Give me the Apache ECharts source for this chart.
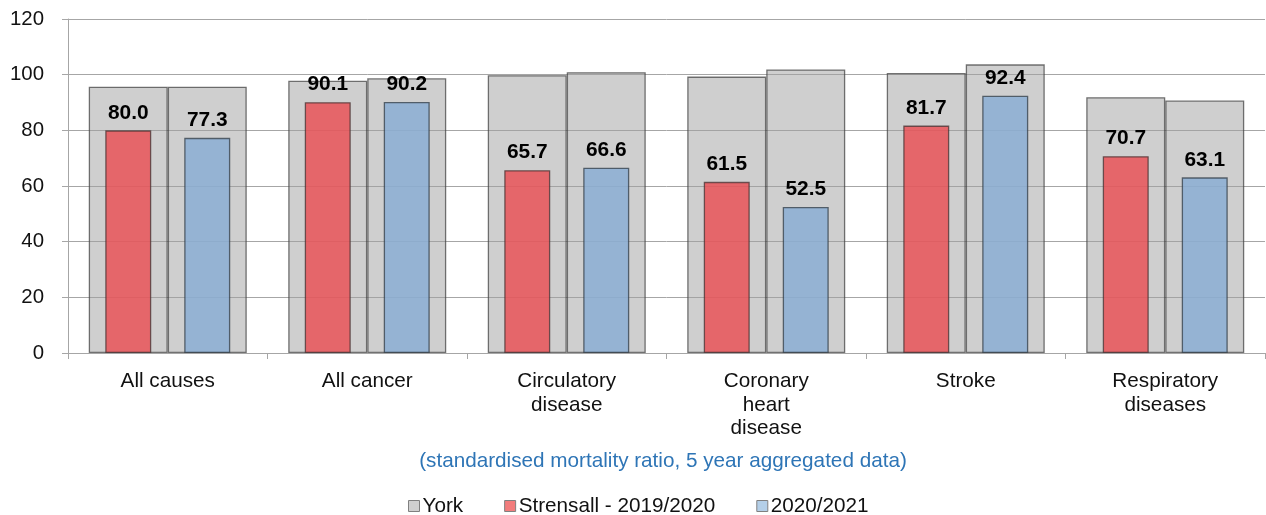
<!DOCTYPE html>
<html>
<head>
<meta charset="utf-8">
<script src="https://cdn.jsdelivr.net/npm/echarts@6/dist/echarts.min.js"></script>
<style>
  html, body { margin: 0; padding: 0; background: #fff; }
  #chart { width: 1266px; height: 515px; }
</style>
</head>
<body>
<div id="chart"></div>
<script>
// Causes of death (category labels, wrapped as drawn under the axis)
const categories = ['All causes', 'All cancer', 'Circulatory\ndisease', 'Coronary\nheart\ndisease', 'Stroke', 'Respiratory\ndiseases'];
// York comparator values for each period
const york2019 = [95.7, 97.8, 99.8, 99.3, 100.6, 91.9];
const york2020 = [95.7, 98.7, 100.9, 101.9, 103.7, 90.7];
// Strensall values
const strensall2019 = [80.0, 90.1, 65.7, 61.5, 81.7, 70.7];
const strensall2020 = [77.3, 90.2, 66.6, 52.5, 92.4, 63.1];
// Y axis ticks
const yTicks = [0, 20, 40, 60, 80, 100, 120];
const subtitle = '(standardised mortality ratio, 5 year aggregated data)';
const legendNames = ['York', 'Strensall - 2019/2020', '2020/2021'];

const FONT = '"Liberation Sans", Arial, sans-serif';
const TEXT_SIZE = 20.7;
const greyFill = 'rgba(160,160,160,0.5)';
const greyBorder = 'rgba(70,70,70,0.75)';
const redFill = 'rgba(233,84,88,0.85)';
const blueFill = 'rgba(139,174,212,0.85)';

const valueLabel = {
  show: true,
  position: 'top',
  distance: 7,
  formatter: p => p.value.toFixed(1),
  fontFamily: FONT,
  fontWeight: 'bold',
  fontSize: 20.9,
  color: '#000'
};

const chart = echarts.init(document.getElementById('chart'), null, { renderer: 'canvas' });
chart.setOption({
  animation: false,
  backgroundColor: '#fff',
  grid: { left: 68, right: 1, top: 19, bottom: 162, containLabel: false },
  xAxis: [
    {
      type: 'category',
      data: categories,
      axisLine: { lineStyle: { color: '#a6a6a6', width: 1 } },
      axisTick: { show: true, length: 6, lineStyle: { color: '#a6a6a6' } },
      axisLabel: {
        fontFamily: FONT, fontSize: TEXT_SIZE, color: '#111', margin: 17, lineHeight: 23.3, interval: 0
      }
    },
    {
      type: 'category',
      data: categories,
      show: false
    }
  ],
  yAxis: {
    type: 'value',
    min: yTicks[0],
    max: yTicks[yTicks.length - 1],
    interval: 20,
    axisLine: { show: true, lineStyle: { color: '#a6a6a6' } },
    axisTick: { show: true, length: 6, lineStyle: { color: '#a6a6a6' } },
    axisLabel: { fontFamily: FONT, fontSize: 20.4, color: '#111', margin: 24 },
    splitLine: { show: true, lineStyle: { color: '#a6a6a6', width: 1 } }
  },
  legend: {
    data: legendNames.map((n, i) => ({
      name: n,
      icon: 'rect',
      itemStyle: {
        color: ['#d0d0d0', '#f27c7c', '#b4cfe8'][i],
        borderColor: '#808080',
        borderWidth: 1
      }
    })),
    left: 403,
    top: 490,
    itemWidth: 11,
    itemHeight: 11,
    itemGap: 41,
    textStyle: { fontFamily: FONT, fontSize: TEXT_SIZE, lineHeight: 22, color: '#111', padding: [0, 0, 0, -2] }
  },
  graphic: [
    {
      type: 'text',
      x: 663,
      y: 461,
      style: {
        text: subtitle,
        font: TEXT_SIZE + 'px ' + FONT,
        fill: '#2e75b6',
        textAlign: 'center',
        textVerticalAlign: 'middle'
      }
    }
  ],
  series: [
    {
      name: 'York',
      type: 'bar',
      xAxisIndex: 0,
      data: york2019,
      barWidth: 79,
      barGap: 0,
      itemStyle: { color: greyFill, borderColor: greyBorder, borderWidth: 1.3 },
      z: 2
    },
    {
      name: 'York',
      type: 'bar',
      xAxisIndex: 0,
      data: york2020,
      barWidth: 79,
      barGap: 0,
      itemStyle: { color: greyFill, borderColor: greyBorder, borderWidth: 1.3 },
      z: 2
    },
    {
      name: 'Strensall - 2019/2020',
      type: 'bar',
      xAxisIndex: 1,
      data: strensall2019,
      barWidth: 46,
      barGap: '71.7%',
      itemStyle: { color: redFill, borderColor: 'rgba(70,50,50,0.75)', borderWidth: 1.3 },
      label: valueLabel,
      z: 3
    },
    {
      name: '2020/2021',
      type: 'bar',
      xAxisIndex: 1,
      data: strensall2020,
      barWidth: 46,
      barGap: '71.7%',
      itemStyle: { color: blueFill, borderColor: 'rgba(50,60,70,0.75)', borderWidth: 1.3 },
      label: valueLabel,
      z: 3
    }
  ]
});
</script>
</body>
</html>
